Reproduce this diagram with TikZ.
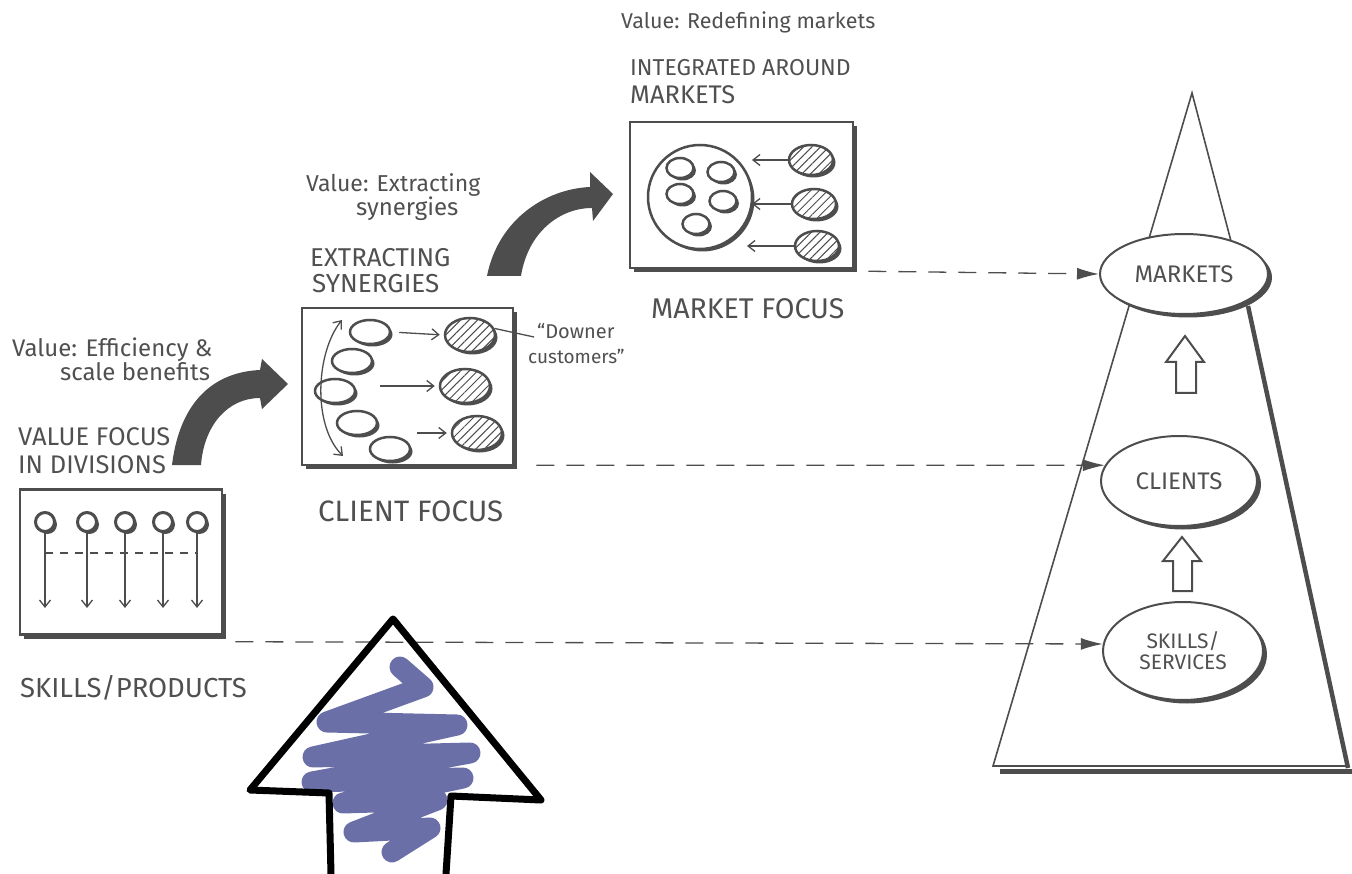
\documentclass[tikz,border=0pt]{standalone}
\usepackage{fontspec}
\setmainfont{Fira Sans}
\usetikzlibrary{shapes.geometric,arrows.meta,patterns.meta,calc}
\definecolor{ink}{HTML}{4D4D4D}
\definecolor{txt}{HTML}{505050}
\definecolor{scrib}{HTML}{6B6FA8}
\newcommand{\fs}[1]{\fontsize{#1}{#1}\selectfont}
\tikzset{
  lbl/.style={text=txt, anchor=west, inner sep=0pt, font=\fs{26}},
  vlbl/.style={text=txt, anchor=west, inner sep=0pt, font=\fs{22}},
  sbox/.style={draw=ink, line width=2.5pt, fill=white, inner sep=0pt,
    preaction={fill=ink, transform canvas={xshift=4pt,yshift=-4pt}}},
  sdw/.style={preaction={fill=ink, transform canvas={xshift=2.5pt,yshift=-2.5pt}}},
  oell/.style={ellipse, draw=ink, line width=2.5pt, fill=white, inner sep=0pt, sdw},
  hell/.style={ellipse, draw=ink, line width=2.5pt, fill=white, inner sep=0pt, sdw,
    postaction={pattern={Lines[angle=45,distance=6pt,line width=1pt]}, pattern color=ink}},
  thin/.style={draw=ink, line width=1.3pt},
  barb/.style={-{Straight Barb[length=7pt,width=11pt,line width=1.3pt]}},
  dasharr/.style={draw=ink, line width=1.3pt, dash pattern=on 18pt off 12pt,
    -{Latex[length=22pt,width=12pt]}},
  bigarr/.style={fill=ink, draw=none},
  pyrell/.style={ellipse, draw=ink, line width=2pt, fill=white, inner sep=0pt, align=center,
    text=txt, font=\fs{24},
    preaction={fill=ink, transform canvas={xshift=4pt,yshift=-3.5pt}}},
  hollow/.style={draw=ink, line width=2pt, fill=white},
}
\begin{document}
\begin{tikzpicture}[x=1pt,y=-1pt]
\useasboundingbox (0,0) rectangle (1352,874);

% ---------- Left: divisions ----------
\node[vlbl, font=\fs{24}] (vA1) at (12,350) {Value: Efficiency \&};
\node[vlbl, font=\fs{24}] (vA2) at (60,372) {scale benefits};
\node[lbl, font=\fs{25.5}] (tA1) at (18,437) {VALUE FOCUS};
\node[lbl, font=\fs{25.5}] (tA2) at (18,465) {IN DIVISIONS};
\node[sbox, minimum width=202pt, minimum height=145pt] (divbox) at (121,562) {};
\foreach \i/\x in {1/45,2/87,3/125,4/163,5/197}{
  \node[circle, draw=ink, line width=3pt, fill=white, minimum size=19pt, inner sep=0pt, sdw] (c\i) at (\x,522) {};
  \coordinate (e\i) at (\x,608);
  \draw[thin, barb] (c\i.south) -- (e\i);
}
\coordinate (dl) at (0,553);
\draw[thin, dashed, dash pattern=on 8pt off 7pt] (c1 |- dl) -- (c5 |- dl);
\node[lbl, font=\fs{27.5}] (tA3) at (20,688) {SKILLS/PRODUCTS};

% curved arrow 1
\path[bigarr] (172,465) .. controls (180,400) and (215,372) .. (260,370)
  -- (262,359) -- (288,384) -- (262,409) -- (260,398)
  .. controls (228,398) and (204,425) .. (201,465) -- cycle;

% ---------- Middle: client focus ----------
\node[vlbl, font=\fs{23}] (vB1) at (306,185) {Value: Extracting};
\node[vlbl, font=\fs{24}] (vB2) at (356,209) {synergies};
\node[lbl, font=\fs{25.8}] (tB1) at (310,258) {EXTRACTING};
\node[lbl, font=\fs{26}] (tB2) at (312,284) {SYNERGIES};
\node[sbox, minimum width=211pt, minimum height=157pt] (clibox) at (407.5,386.5) {};
\node[oell, minimum width=40pt, minimum height=24pt] (o1) at (370,332) {};
\node[oell, minimum width=40pt, minimum height=24pt] (o2) at (352,361) {};
\node[oell, minimum width=40pt, minimum height=24pt] (o3) at (335,391) {};
\node[oell, minimum width=40pt, minimum height=24pt] (o4) at (357,423) {};
\node[oell, minimum width=40pt, minimum height=24pt] (o5) at (390,449) {};
\node[hell, minimum width=50pt, minimum height=34pt] (h1) at (470,335) {};
\node[hell, minimum width=50pt, minimum height=34pt] (h2) at (465,386) {};
\node[hell, minimum width=50pt, minimum height=34pt] (h3) at (477,433) {};
\draw[thin, barb, shorten <=8pt, shorten >=4pt] (o1.east) -- (h1.west);
\draw[thin, barb, shorten <=24pt, shorten >=4pt] (o3.east |- h2.west) -- (h2.west);
\draw[thin, barb, shorten <=6pt, shorten >=4pt] (o5.east |- h3.west) -- (h3.west);
\draw[thin, {Straight Barb[length=7pt,width=11pt,line width=1.3pt]}-{Straight Barb[length=7pt,width=11pt,line width=1.3pt]}]
  (342,320) .. controls (316,352) and (312,425) .. (343,456);
\node[vlbl, font=\fs{20}] (dn1) at (537,331) {“Downer};
\node[vlbl, font=\fs{19}] (dn2) at (528,356) {customers”};
\draw[thin] (h1.15) -- ([xshift=-3pt,yshift=-6pt]dn1.west);
\node[lbl, font=\fs{29.5}] (tB3) at (318,511) {CLIENT FOCUS};

% curved arrow 2
\path[bigarr] (487,276) .. controls (498,220) and (545,189) .. (590,187)
  -- (590,172) -- (613,194) -- (593,221) -- (592,208)
  .. controls (560,208) and (528,232) .. (521,276) -- cycle;

% ---------- Right-middle: market focus ----------
\node[vlbl, font=\fs{21.5}] (vC1) at (621,22) {Value: Redefining markets};
\node[lbl, font=\fs{23}] (tC1) at (630,68) {INTEGRATED AROUND};
\node[lbl, font=\fs{25.5}] (tC2) at (630,95) {MARKETS};
\node[sbox, minimum width=223pt, minimum height=146pt] (mktbox) at (741.5,195) {};
\node[circle, draw=ink, line width=2.5pt, fill=white, minimum size=104pt, inner sep=0pt, sdw] (bigc) at (700,197) {};
\node[oell, minimum width=27pt, minimum height=20pt] (m1) at (680,168) {};
\node[oell, minimum width=27pt, minimum height=20pt] (m2) at (721,172) {};
\node[oell, minimum width=27pt, minimum height=20pt] (m3) at (680,194) {};
\node[oell, minimum width=27pt, minimum height=20pt] (m4) at (723,201) {};
\node[oell, minimum width=27pt, minimum height=20pt] (m5) at (696,224) {};
\node[hell, minimum width=44pt, minimum height=30pt] (g1) at (811,160) {};
\node[hell, minimum width=44pt, minimum height=30pt] (g2) at (814,204) {};
\node[hell, minimum width=44pt, minimum height=30pt] (g3) at (817,246) {};
\coordinate (ax) at (752,0);
\draw[thin, barb] (g1.west) -- (g1.west -| ax);
\draw[thin, barb] (g2.west) -- (g2.west -| ax);
\draw[thin, barb] (g3.west) -- ([xshift=-5pt]g3.west -| ax);
\node[lbl, font=\fs{28.5}] (tC3) at (651,309) {MARKET FOCUS};

% ---------- Pyramid ----------
\draw[ink, line width=1.6pt, line join=miter] (1232,245) -- (1192,93) -- (993,766) -- (1346,766);
\draw[ink, line width=4.5pt] (1248,306) -- (1348,768);
\draw[ink, line width=5pt] (1000,771) -- (1352,771);
\node[pyrell, minimum width=168pt, minimum height=80pt] (mkts) at (1184,274) {MARKETS};
\node[pyrell, minimum width=156pt, minimum height=90pt] (clients) at (1179,481) {CLIENTS};
\node[pyrell, minimum width=160pt, minimum height=98pt, font=\fs{21}] (skills) at (1183,651) {SKILLS/\\SERVICES};
\path[hollow] (1176,393) -- (1176,362) -- (1166,362) -- (1185,336) -- (1204,362) -- (1196,362) -- (1196,393) -- cycle;
\path[hollow] (1173,591) -- (1173,561) -- (1163,561) -- (1182,537) -- (1201,561) -- (1192,561) -- (1192,591) -- cycle;

% ---------- Dashed links ----------
\draw[dasharr] ([xshift=14pt,yshift=-2pt]mktbox.east |- mktbox.south) -- (mkts.west);
\draw[dasharr] ([xshift=22pt,yshift=1pt]clibox.south east) -- (clients.168);
\draw[dasharr] ([xshift=12pt,yshift=-6pt]divbox.south east) -- (skills.175);

% ---------- Big blue arrow ----------
\draw[scrib, line width=21pt, line cap=round, line join=round]
  (400,667) -- (423,687) -- (327,722) -- (457,725) -- (313,757) -- (470,753)
  -- (312,782) -- (463,778) -- (343,803) -- (437,800) -- (354,832) -- (430,828) -- (392,852);
\draw[black, line width=7pt, line join=round, line cap=round]
  (331,874) -- (329,793) -- (250,790) -- (393,619) -- (541,800) -- (451,796) -- (446,874);
\end{tikzpicture}
\end{document}
